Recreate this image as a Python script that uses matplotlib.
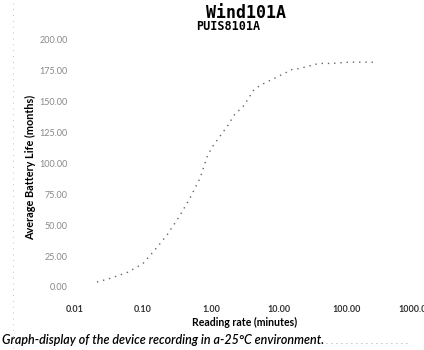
import matplotlib
matplotlib.use("Agg")
import matplotlib.pyplot as plt
from matplotlib.lines import Line2D

# values (log x axis)
reading_rate = [0.021, 0.033, 0.060, 0.10, 0.16, 0.225, 0.35, 0.49, 0.69, 0.87,
                1.03, 1.78, 2.18, 3.06, 4.3, 5.6, 7.9, 11.1, 15.5, 20.4,
                38.9, 60.4, 107, 150, 251]
battery_life = [4, 7, 12, 19, 32, 42, 58, 72, 88, 105,
                113, 131, 139, 147, 160, 164, 168, 172, 176, 177,
                181, 181, 182, 182, 182]

x_ticks = [0.01, 0.1, 1, 10, 100, 1000]
x_labels = ["0.01", "0.10", "1.00", "10.00", "100.00", "1000.00"]
y_ticks = [0, 25, 50, 75, 100, 125, 150, 175, 200]
y_labels = ["0.00", "25.00", "50.00", "75.00", "100.00", "125.00", "150.00", "175.00", "200.00"]

W, H = 424, 350
fig = plt.figure(figsize=(W / 100, H / 100), dpi=100)

# axes placed in pixel terms
left, right, top, bottom = 72, 424, 35, 292
ax = fig.add_axes([left / W, 1 - bottom / H, (right - left) / W, (bottom - top) / H])

ax.plot(reading_rate, battery_life, color="#666666", lw=1.0, linestyle=(0, (1, 3.5)))
ax.set_xscale("log")
ax.set_xlim(0.00903, 1355)
ax.set_ylim(-4.05, 204)

ax.set_xticks(x_ticks)
ax.set_xticklabels(x_labels)
ax.minorticks_off()
ax.set_yticks(y_ticks)
ax.set_yticklabels(y_labels)
ax.tick_params(axis="x", length=0, pad=9, labelsize=6.5, labelcolor="#333333")
ax.tick_params(axis="y", length=0, pad=3, labelsize=6.5, labelcolor="#888888")
for lbl in ax.get_xticklabels():
    lbl.set_fontweight("bold")
    lbl.set_family("Lato")
for lbl in ax.get_yticklabels():
    lbl.set_family("Lato")
for s in ax.spines.values():
    s.set_visible(False)

# title and its ghost line
fig.text(246 / W, 1 - 13 / H, "Wind101A", ha="center", va="center",
         fontsize=12, fontweight="bold", family="DejaVu Sans Mono")
fig.text(228 / W, 1 - 27 / H, "PUIS8101A", ha="center", va="center",
         fontsize=8.5, fontweight="bold", family="DejaVu Sans Mono")

fig.text(31 / W, 1 - 167 / H, "Average Battery Life (months)", rotation=90,
         ha="center", va="center", fontsize=7.8, fontweight="bold", family="Lato")
fig.text(245 / W, 1 - 322 / H, "Reading rate (minutes)", ha="center", va="center",
         fontsize=7.6, fontweight="bold", family="Lato")
fig.text(2 / W, 1 - 340 / H,
         "Graph-display of the device recording in a-25\u00b0C environment.",
         ha="left", va="center", fontsize=9, style="italic", fontweight="semibold",
         family="Lato")

# faint dotted rules from the scan
fig.add_artist(Line2D([13 / W, 13 / W], [1 - 348 / H, 1 - 2 / H], transform=fig.transFigure,
                      color="#aaaaaa", lw=0.6, linestyle=(0, (1, 6))))
fig.add_artist(Line2D([326 / W, 410 / W], [1 - 343 / H, 1 - 343 / H], transform=fig.transFigure,
                      color="#888888", lw=0.6, linestyle=(0, (1, 5))))

fig.savefig("out.png", dpi=100)
